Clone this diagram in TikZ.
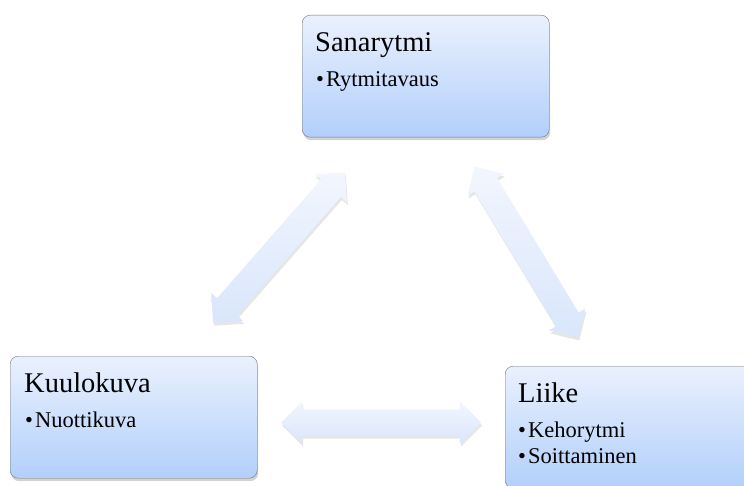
\documentclass[tikz,border=0pt]{standalone}
\usepackage{fontspec}
\setmainfont{Liberation Serif}
\usetikzlibrary{shapes.arrows, shadows, calc, positioning}

\definecolor{boxtop}{HTML}{EAF1FD}
\definecolor{boxbot}{HTML}{B2CFFB}
\definecolor{arrtop}{HTML}{F2F6FE}
\definecolor{arrbot}{HTML}{D9E6FB}

\begin{document}
\begin{tikzpicture}[
    x=1pt, y=1pt,
    box/.style={rectangle, rounded corners=8pt, draw=black!55, thin,
      top color=boxtop, bottom color=boxbot,
      minimum width=247pt, minimum height=122pt, anchor=north west,
      drop shadow={shadow xshift=1pt, shadow yshift=-3pt, opacity=.35}},
    heading/.style={font=\fontsize{28.5}{31}\selectfont, anchor=base west, inner sep=0pt},
    item/.style={font=\fontsize{22.5}{25}\selectfont, anchor=base west, inner sep=0pt},
    link/.style={double arrow, double arrow head extend=8pt,
      inner xsep=0pt, inner ysep=13pt, minimum height=200pt,
      top color=arrtop, bottom color=arrbot,
      drop shadow={shadow xshift=1pt, shadow yshift=-3pt, opacity=.2}}
  ]
  \useasboundingbox (0,0) rectangle (744,-486);

  % the three boxes
  \node [box] (sanarytmi) at (302,-15) {};
  \node [box] (kuulokuva) at (10,-356) {};
  \node [box] (liike) at (505,-366) {};

  \node [heading] (sanarytmi-h) at ($(sanarytmi.north west)+(13,-37)$) {Sanarytmi};
  \node [item] (sanarytmi-1) at ($(sanarytmi.north west)+(14,-72)$) {\textbullet\hspace{2pt}Rytmitavaus};

  \node [heading] (kuulokuva-h) at ($(kuulokuva.north west)+(14,-36)$) {Kuulokuva};
  \node [item] (kuulokuva-1) at ($(kuulokuva.north west)+(15,-71)$) {\textbullet\hspace{2pt}Nuottikuva};

  \node [heading] (liike-h) at ($(liike.north west)+(13,-36)$) {Liike};
  \node [item] (liike-1) at ($(liike.north west)+(13,-71)$) {\textbullet\hspace{2pt}Kehorytmi};
  \node [item] (liike-2) at ($(liike.north west)+(13,-97)$) {\textbullet\hspace{2pt}Soittaminen};

  % double arrows between them
  \node [link, rotate=48.8] (sk) at (279,-247.5) {};
  \node [link, rotate=-58.8] (sl) at (526.5,-252) {};
  \node [link] (kl) at (381,-422.5) {};
\end{tikzpicture}
\end{document}
